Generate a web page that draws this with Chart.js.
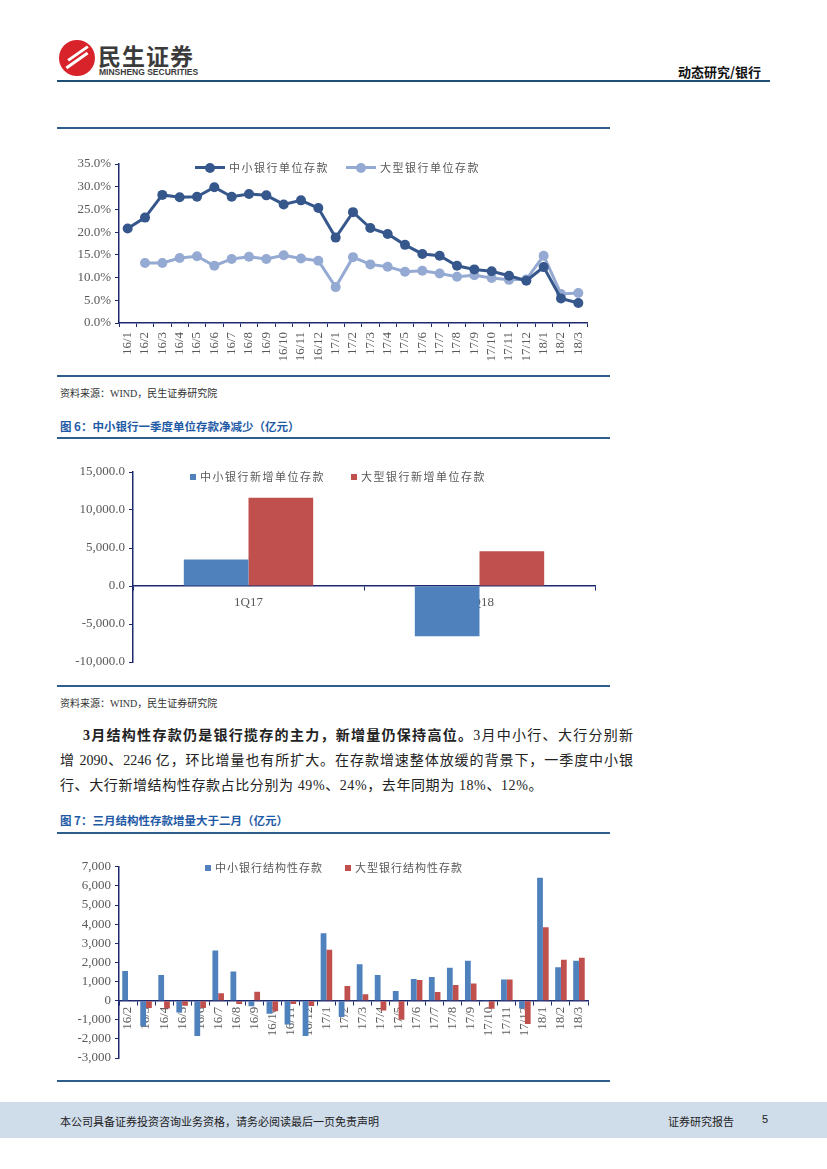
<!DOCTYPE html>
<html lang="zh">
<head>
<meta charset="UTF-8">
<title>动态研究/银行</title>
<script src="https://cdn.jsdelivr.net/npm/chart.js@4.4.0/dist/chart.umd.min.js"></script>
<style>
  body { margin:0; width:827px; height:1169px; position:relative; background:#fff; overflow:hidden;
         font-family:"Liberation Serif","Noto Sans CJK SC",serif; color:#222; }
  .abs { position:absolute; }
  .rule { position:absolute; left:57px; width:553px; height:2px; background:#2f5d8c; }
  .src { position:absolute; left:60px; font-size:10px; color:#333; }
  .fig { position:absolute; left:60px; font-size:11.5px; font-weight:bold; color:#1f5aa6; font-family:"Noto Sans CJK SC",sans-serif; }
  .box { position:absolute; }
  .lg { position:absolute; font-size:11px; color:#595959; font-family:"Noto Sans CJK SC",sans-serif; letter-spacing:1.5px; white-space:nowrap; }
  .sq { display:inline-block; width:6px; height:6px; margin-right:4px; vertical-align:1px; }
  .ln { display:inline-block; position:relative; width:30px; height:3px; margin-right:4px; vertical-align:3px; }
  .ln i { position:absolute; left:10px; top:-3.5px; width:10px; height:10px; border-radius:50%; }
  .para { position:absolute; left:60px; width:573px; font-size:14px; text-align:justify; text-align-last:justify; white-space:nowrap; }
</style>
</head>
<body>

<!-- header -->
<div class="abs" style="left:59px;top:40px;width:36px;height:36px;border-radius:50%;background:#d8232a;"></div>
<div class="abs" style="left:66px;top:52px;width:24px;height:3px;background:#fff;transform:rotate(-35deg);"></div>
<div class="abs" style="left:64px;top:59px;width:26px;height:3px;background:#fff;transform:rotate(-35deg);"></div>
<div class="abs" style="left:98px;top:38px;font-size:23px;font-weight:bold;color:#3b3b3b;font-family:'Noto Sans CJK SC',sans-serif;letter-spacing:1px;">民生证券</div>
<div class="abs" style="left:99px;top:67px;font-size:8.5px;font-weight:bold;color:#3b3b3b;font-family:'Liberation Sans',sans-serif;">MINSHENG SECURITIES</div>
<div class="abs" style="left:678px;top:62px;font-size:13px;font-weight:bold;color:#111;font-family:'Noto Sans CJK SC',sans-serif;">动态研究/银行</div>
<div class="abs" style="left:57px;top:80px;width:713px;height:2px;background:#1f4e79;"></div>

<!-- figure 5 (line) -->
<div class="rule" style="top:127px;"></div>
<div class="box" style="left:57px;top:150px;width:553px;height:225px;"><canvas id="c1"></canvas></div>
<div class="lg" style="left:195px;top:159px;"><span class="ln" style="background:#36578c"><i style="background:#36578c"></i></span>中小银行单位存款</div>
<div class="lg" style="left:346px;top:159px;"><span class="ln" style="background:#95aad2"><i style="background:#95aad2"></i></span>大型银行单位存款</div>
<div class="rule" style="top:375px;"></div>
<div class="src" style="top:385px;">资料来源：WIND，民生证券研究院</div>

<!-- figure 6 (bar) -->
<div class="fig" style="top:418px;">图 6：中小银行一季度单位存款净减少（亿元）</div>
<div class="rule" style="top:437px;"></div>
<div class="box" style="left:57px;top:450px;width:553px;height:230px;"><canvas id="c2"></canvas></div>
<div class="lg" style="left:190px;top:468px;"><span class="sq" style="background:#4f81bd"></span>中小银行新增单位存款</div>
<div class="lg" style="left:351px;top:468px;"><span class="sq" style="background:#c0504d"></span>大型银行新增单位存款</div>
<div class="rule" style="top:685px;"></div>
<div class="src" style="top:695px;">资料来源：WIND，民生证券研究院</div>

<!-- text -->
<div class="para" style="top:724px;left:83px;width:550px;"><b>3月结构性存款仍是银行揽存的主力，新增量仍保持高位。</b>3月中小行、大行分别新</div>
<div class="para" style="top:749px;">增 2090、2246 亿，环比增量也有所扩大。在存款增速整体放缓的背景下，一季度中小银</div>
<div class="para" style="top:774px;text-align-last:left;letter-spacing:0.6px;">行、大行新增结构性存款占比分别为 49%、24%，去年同期为 18%、12%。</div>

<!-- figure 7 (bar) -->
<div class="fig" style="top:812px;">图 7：三月结构性存款增量大于二月（亿元）</div>
<div class="rule" style="top:832px;"></div>
<div class="box" style="left:57px;top:855px;width:553px;height:220px;"><canvas id="c3"></canvas></div>
<div class="lg" style="left:205px;top:859px;letter-spacing:1px;"><span class="sq" style="background:#4f81bd"></span>中小银行结构性存款</div>
<div class="lg" style="left:345px;top:859px;letter-spacing:1px;"><span class="sq" style="background:#c0504d"></span>大型银行结构性存款</div>
<div class="rule" style="top:1080px;"></div>

<!-- footer -->
<div class="abs" style="left:0;top:1102px;width:827px;height:36px;background:#cfdcea;"></div>
<div class="abs" style="left:60px;top:1113px;font-size:11px;color:#222;font-family:'Noto Sans CJK SC',sans-serif;">本公司具备证券投资咨询业务资格，请务必阅读最后一页免责声明</div>
<div class="abs" style="left:668px;top:1113px;font-size:11px;color:#222;font-family:'Noto Sans CJK SC',sans-serif;">证券研究报告</div>
<div class="abs" style="left:762px;top:1113px;font-size:11px;color:#222;font-family:'Liberation Sans',sans-serif;">5</div>

<script>
// figure 5: 单位存款同比增速 (%)
const months1 = ['16/1','16/2','16/3','16/4','16/5','16/6','16/7','16/8','16/9','16/10','16/11','16/12',
                 '17/1','17/2','17/3','17/4','17/5','17/6','17/7','17/8','17/9','17/10','17/11','17/12',
                 '18/1','18/2','18/3'];
const smallUnitDep = [20.8,23.2,28.2,27.7,27.8,29.9,27.8,28.4,28.1,26.1,27.0,25.3,
                      18.8,24.4,20.9,19.6,17.2,15.2,14.8,12.6,11.8,11.4,10.4,9.3,
                      12.3,5.4,4.4];
const bigUnitDep   = [null,13.2,13.2,14.3,14.7,12.6,14.1,14.6,14.1,14.9,14.2,13.7,
                      7.9,14.5,12.9,12.4,11.3,11.5,10.9,10.2,10.5,9.9,9.5,9.6,
                      14.8,6.4,6.6];

// figure 6: 一季度新增单位存款 (亿元)
const quarters = ['1Q17','1Q18'];
const smallNewUnit = [3500, -6600];
const bigNewUnit   = [11600, 4560];

// figure 7: 结构性存款月度增量 (亿元)
const months3 = ['16/2','16/3','16/4','16/5','16/6','16/7','16/8','16/9','16/10','16/11','16/12',
                 '17/1','17/2','17/3','17/4','17/5','17/6','17/7','17/8','17/9','17/10','17/11','17/12',
                 '18/1','18/2','18/3'];
const smallStruct = [1550,-1340,1340,-620,-1850,2620,1530,-290,-690,-1250,-1850,
                     3530,-860,1900,1340,500,1130,1230,1720,2090,10,1110,-410,
                     6430,1750,2090];
const bigStruct   = [20,-390,-410,-270,-380,390,-170,460,-550,-170,-280,
                     2660,770,340,-510,-1000,1080,450,820,890,-430,1110,-1220,
                     3840,2140,2246];

const NAVY = '#1f2a6e';
const TICK = '#595959';
const yFont = { family: 'Liberation Serif', size: 13 };
const xFont = { family: 'Liberation Serif', size: 13 };
Chart.defaults.animation = false;

function xAxis(extra) {
  return Object.assign({
    offset: true,
    grid: { offset: true, drawOnChartArea: false, color: NAVY, tickLength: 4 },
    border: { color: NAVY, width: 1.5 },
    ticks: { color: TICK, font: xFont, autoSkip: false, padding: 3 }
  }, extra);
}
function yAxis(extra, w) {
  return Object.assign({
    grid: { drawOnChartArea: false, color: NAVY, tickLength: 4 },
    border: { color: NAVY, width: 1.5 },
    afterFit: s => { s.width = w; }
  }, extra);
}
const base = { responsive: true, maintainAspectRatio: false,
               plugins: { legend: { display: false }, tooltip: { enabled: false } } };

new Chart(document.getElementById('c1'), {
  type: 'line',
  data: {
    labels: months1,
    datasets: [
      { data: smallUnitDep, borderColor: '#36578c', backgroundColor: '#36578c', borderWidth: 3,
        pointRadius: 5, pointBorderWidth: 0, tension: 0 },
      { data: bigUnitDep, borderColor: '#95aad2', backgroundColor: '#95aad2', borderWidth: 3,
        pointRadius: 5, pointBorderWidth: 0, tension: 0 }
    ]
  },
  options: Object.assign({}, base, {
    layout: { padding: { top: 14, right: 23, left: 0, bottom: 0 } },
    scales: {
      x: xAxis({ ticks: { color: TICK, font: xFont, autoSkip: false, minRotation: 90, maxRotation: 90, padding: 5 },
                 afterFit: s => { s.height = 52; } }),
      y: yAxis({ min: 0, max: 35,
                 ticks: { stepSize: 5, color: TICK, font: yFont, padding: 4, callback: v => v.toFixed(1) + '%' } }, 62)
    }
  })
});

new Chart(document.getElementById('c2'), {
  type: 'bar',
  data: {
    labels: quarters,
    datasets: [
      { data: smallNewUnit, backgroundColor: '#4f81bd', categoryPercentage: 0.56, barPercentage: 1 },
      { data: bigNewUnit, backgroundColor: '#c0504d', categoryPercentage: 0.56, barPercentage: 1 }
    ]
  },
  options: Object.assign({}, base, {
    layout: { padding: { top: 22, right: 15, left: 0, bottom: 18 } },
    scales: {
      x: xAxis({ position: { y: 0 }, ticks: { color: TICK, font: yFont, padding: 5 } }),
      y: yAxis({ min: -10000, max: 15000,
                 ticks: { stepSize: 5000, color: TICK, font: yFont, padding: 4,
                          callback: v => v.toLocaleString('en-US', { minimumFractionDigits: 1 }) } }, 76)
    }
  })
});

new Chart(document.getElementById('c3'), {
  type: 'bar',
  data: {
    labels: months3,
    datasets: [
      { data: smallStruct, backgroundColor: '#4f81bd', categoryPercentage: 0.64, barPercentage: 1 },
      { data: bigStruct, backgroundColor: '#c0504d', categoryPercentage: 0.64, barPercentage: 1 }
    ]
  },
  options: Object.assign({}, base, {
    layout: { padding: { top: 9, right: 22, left: 0, bottom: 17 } },
    scales: {
      x: xAxis({ position: { y: 0 },
                 ticks: { color: TICK, font: xFont, autoSkip: false, minRotation: 90, maxRotation: 90, padding: 2 } }),
      y: yAxis({ min: -3000, max: 7000,
                 ticks: { stepSize: 1000, color: TICK, font: yFont, padding: 4,
                          callback: v => v.toLocaleString('en-US') } }, 62)
    }
  })
});
</script>
</body>
</html>
